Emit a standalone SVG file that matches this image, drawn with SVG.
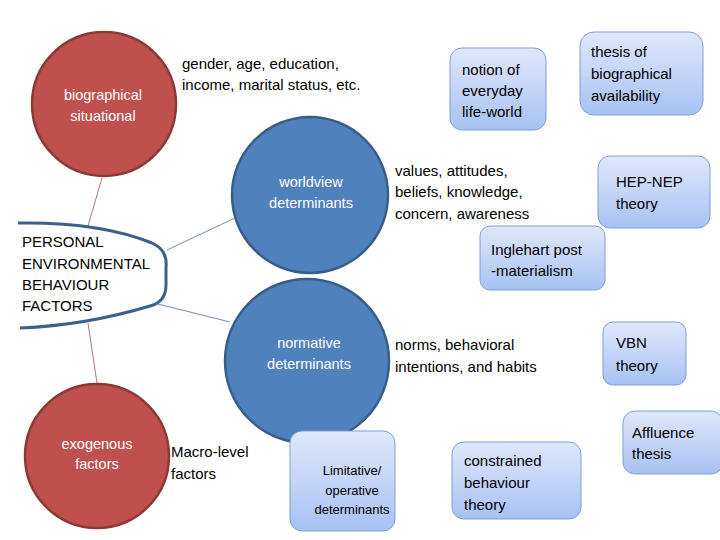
<svg xmlns="http://www.w3.org/2000/svg" width="720" height="540" viewBox="0 0 720 540">
<defs>
<linearGradient id="g" x1="0" y1="0" x2="0" y2="1"><stop offset="0" stop-color="#dfe8fb"/><stop offset="1" stop-color="#a7c2f3"/></linearGradient>
<style>
text{font-family:"Liberation Sans",Arial,sans-serif;font-size:15px;fill:#000}
.w{fill:#fff;font-size:14.5px}
.red{fill:#c0504d;stroke:#8c3836;stroke-width:2.5}
.blue{fill:#4f81bd;stroke:#385d8a;stroke-width:2.5}
.box{fill:url(#g);stroke:#7f9fd6;stroke-width:1}
.c{text-anchor:middle}
</style>
</defs>
<rect width="720" height="540" fill="#fff"/>
<g id="connectors" fill="none">
<line x1="102" y1="178" x2="88" y2="226" stroke="#a05050" stroke-width="0.8"/>
<line x1="88" y1="323" x2="97" y2="383" stroke="#a05050" stroke-width="0.8"/>
<line x1="167" y1="250" x2="235" y2="218" stroke="#4f6f9f" stroke-width="0.8"/>
<line x1="158" y1="304" x2="230" y2="322" stroke="#4f6f9f" stroke-width="0.8"/>
</g>
<g id="personal">
<path d="M18,223 C80,222 120,230 152,243 Q168,250 166,268 L166,285 Q166,302 150,306 C110,318 70,326 20,328" fill="none" stroke="#3b5f8e" stroke-width="3"/>
<text x="22" y="247">PERSONAL</text><text x="22" y="269">ENVIRONMENTAL</text><text x="22" y="290">BEHAVIOUR</text><text x="22" y="311">FACTORS</text>
</g>
<g id="biographical"><circle class="red" cx="104" cy="104" r="72"/><text class="w c" x="103" y="100">biographical</text><text class="w c" x="103" y="121">situational</text></g>
<g id="exogenous"><circle class="red" cx="97" cy="456" r="72"/><text class="w c" x="97" y="449">exogenous</text><text class="w c" x="97" y="469">factors</text></g>
<g id="worldview"><circle class="blue" cx="310" cy="195" r="78"/><text class="w c" x="311" y="187">worldview</text><text class="w c" x="311" y="208">determinants</text></g>
<g id="normative"><circle class="blue" cx="307" cy="361" r="82"/><text class="w c" x="309" y="348">normative</text><text class="w c" x="309" y="369">determinants</text></g>
<g id="gender"><text x="182" y="69">gender, age, education,</text><text x="182" y="90">income, marital status, etc.</text></g>
<g id="values"><text x="395" y="176">values, attitudes,</text><text x="395" y="197">beliefs, knowledge,</text><text x="395" y="219">concern, awareness</text></g>
<g id="norms"><text x="395" y="350">norms, behavioral</text><text x="395" y="372">intentions, and habits</text></g>
<g id="macro"><text x="171" y="457">Macro-level</text><text x="171" y="479">factors</text></g>
<g id="notion"><rect class="box" x="450" y="48" width="96" height="82" rx="12"/><text x="462" y="75">notion of</text><text x="462" y="96">everyday</text><text x="462" y="117">life-world</text></g>
<g id="thesis"><rect class="box" x="580" y="32" width="123" height="83" rx="14"/><text x="591" y="57">thesis of</text><text x="591" y="79">biographical</text><text x="591" y="101">availability</text></g>
<g id="hepnep"><rect class="box" x="598" y="156" width="112" height="72" rx="12"/><text x="616" y="187">HEP-NEP</text><text x="616" y="209">theory</text></g>
<g id="inglehart"><rect class="box" x="480" y="226" width="125" height="64" rx="10"/><text x="491" y="255">Inglehart post</text><text x="491" y="276">-materialism</text></g>
<g id="vbn"><rect class="box" x="603" y="322" width="83" height="63" rx="10"/><text x="616" y="348">VBN</text><text x="616" y="371">theory</text></g>
<g id="affluence"><rect class="box" x="623" y="411" width="100" height="63" rx="12"/><text x="632" y="438">Affluence</text><text x="632" y="459">thesis</text></g>
<g id="constrained"><rect class="box" x="452" y="442" width="129" height="77" rx="12"/><text x="464" y="466">constrained</text><text x="464" y="488">behaviour</text><text x="464" y="510">theory</text></g>
<g id="limitative"><rect class="box" x="290" y="431" width="105" height="100" rx="12"/><text class="c" x="352" y="475" style="font-size:13px">Limitative/</text><text class="c" x="352" y="495" style="font-size:13px">operative</text><text class="c" x="352" y="514" style="font-size:13px">determinants</text></g>
</svg>
